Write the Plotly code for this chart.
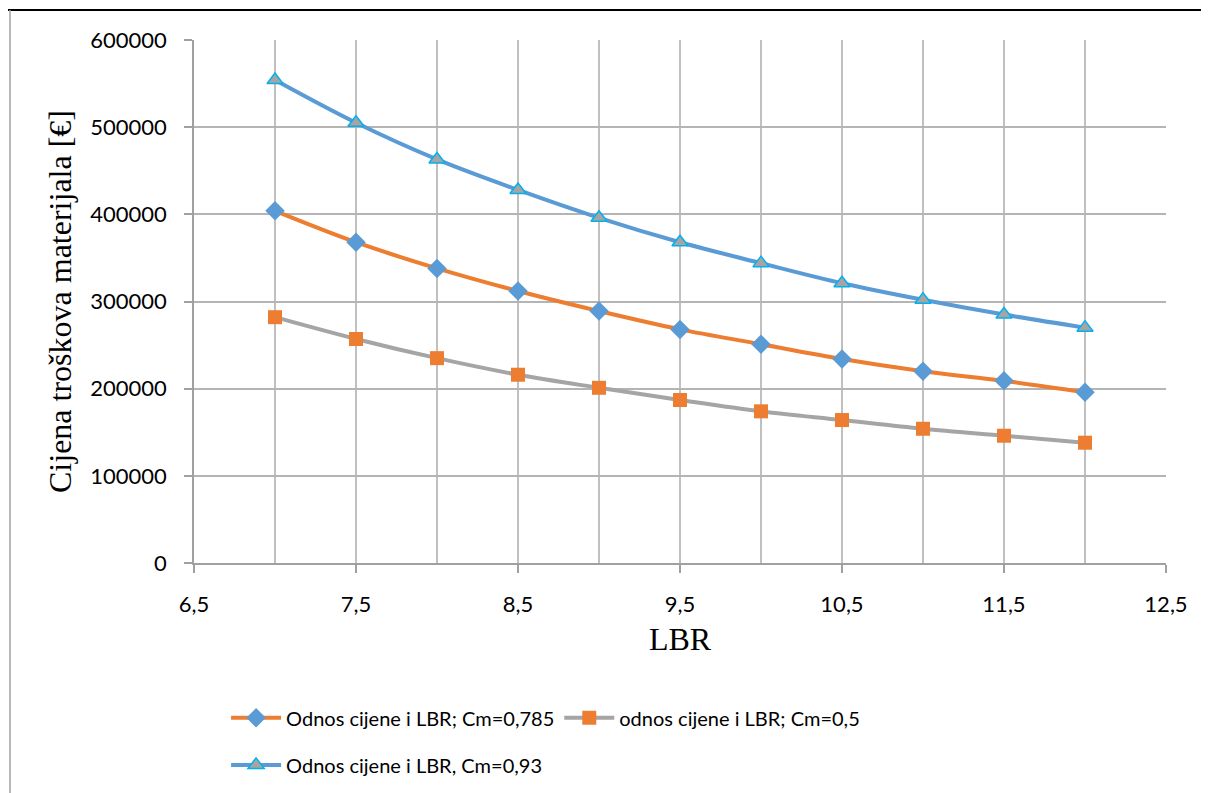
import plotly.graph_objects as go

lbr = [7, 7.5, 8, 8.5, 9, 9.5, 10, 10.5, 11, 11.5, 12]
cm_0785 = [404000, 368000, 338000, 312000, 289000, 268000, 251000, 234000, 220000, 209000, 196000]
cm_05 = [282000, 257000, 235000, 216000, 201000, 187000, 174000, 164000, 154000, 146000, 138000]
cm_093 = [554000, 505000, 463000, 428000, 396000, 368000, 344000, 321000, 302000, 285000, 270000]

names = ["Odnos cijene i LBR; Cm=0,785", "odnos cijene i LBR; Cm=0,5", "Odnos cijene i LBR, Cm=0,93"]

BLUE = "#5B9BD5"
ORANGE = "#ED7D31"
GRAY = "#A5A5A5"
CYAN = "#00B0F0"

fig = go.Figure()
fig.add_trace(go.Scatter(
    x=lbr, y=cm_0785, name=names[0], mode="lines+markers",
    line=dict(color=ORANGE, width=4, shape="spline"),
    marker=dict(symbol="diamond", size=15, color=BLUE, line=dict(width=0)),
    legend="legend"))
fig.add_trace(go.Scatter(
    x=lbr, y=cm_05, name=names[1], mode="lines+markers",
    line=dict(color=GRAY, width=4, shape="spline"),
    marker=dict(symbol="square", size=14, color=ORANGE, line=dict(width=0)),
    legend="legend"))
fig.add_trace(go.Scatter(
    x=lbr, y=cm_093, name=names[2], mode="lines+markers",
    line=dict(color=BLUE, width=4, shape="spline"),
    marker=dict(symbol="triangle-up", size=14, color=GRAY, line=dict(width=1.5, color=CYAN)),
    legend="legend2"))

tickfont = dict(family="Lato", size=22, color="#000000")
legfont = dict(family="Lato", size=20, color="#000000")
titlefont = dict(family="Liberation Serif", size=32, color="#000000")

W, H = 1209, 793
ML, MR, MT, MB = 186, 51, 32, 238
PW = W - ML - MR
PH = H - MT - MB

fig.update_layout(
    width=W, height=H,
    margin=dict(l=ML, r=MR, t=MT, b=MB),
    paper_bgcolor="white", plot_bgcolor="white",
    separators=", ",
    showlegend=True,
    xaxis=dict(
        range=[6.5, 12.5], tick0=6.5, dtick=1, tickformat=".1f",
        showgrid=True, gridcolor="#C0C0C0", gridwidth=1.5,
        minor=dict(dtick=0.5, tick0=6.5, showgrid=True, gridcolor="#C0C0C0", gridwidth=1.5),
        ticks="outside", ticklen=8, tickcolor="#A0A0A0", tickwidth=1.5,
        ticklabelstandoff=13,
        showline=True, linecolor="#A0A0A0", linewidth=1.5,
        zeroline=False, tickfont=tickfont,
        title=dict(text="LBR", font=titlefont, standoff=11),
    ),
    yaxis=dict(
        range=[0, 600000], dtick=100000, tickformat="d",
        showgrid=True, gridcolor="#B4B4B4", gridwidth=1.5,
        ticks="outside", ticklen=8, tickcolor="#A0A0A0", tickwidth=1.5,
        ticklabelstandoff=13,
        showline=True, linecolor="#A0A0A0", linewidth=1.5,
        zeroline=False, tickfont=tickfont,
        title=dict(text="Cijena troškova materijala [€]", font=titlefont, standoff=9),
    ),
    legend=dict(orientation="h", x=0.033, xanchor="left", y=-0.296, yanchor="middle",
                font=legfont, itemwidth=50, bgcolor="rgba(0,0,0,0)"),
    legend2=dict(orientation="h", x=0.033, xanchor="left", y=-0.386, yanchor="middle",
                 font=legfont, itemwidth=50, bgcolor="rgba(0,0,0,0)"),
    shapes=[
        dict(type="line", xref="paper", yref="paper", x0=-ML / PW, x1=1 + MR / PW,
             y0=1 + 30 / PH, y1=1 + 30 / PH, line=dict(color="black", width=2)),
        dict(type="line", xref="paper", yref="paper", x0=-184 / PW, x1=-184 / PW,
             y0=1 + 30 / PH, y1=-MB / PH, line=dict(color="#A0A0A0", width=1.5)),
    ],
)

fig.write_html("out.html")
